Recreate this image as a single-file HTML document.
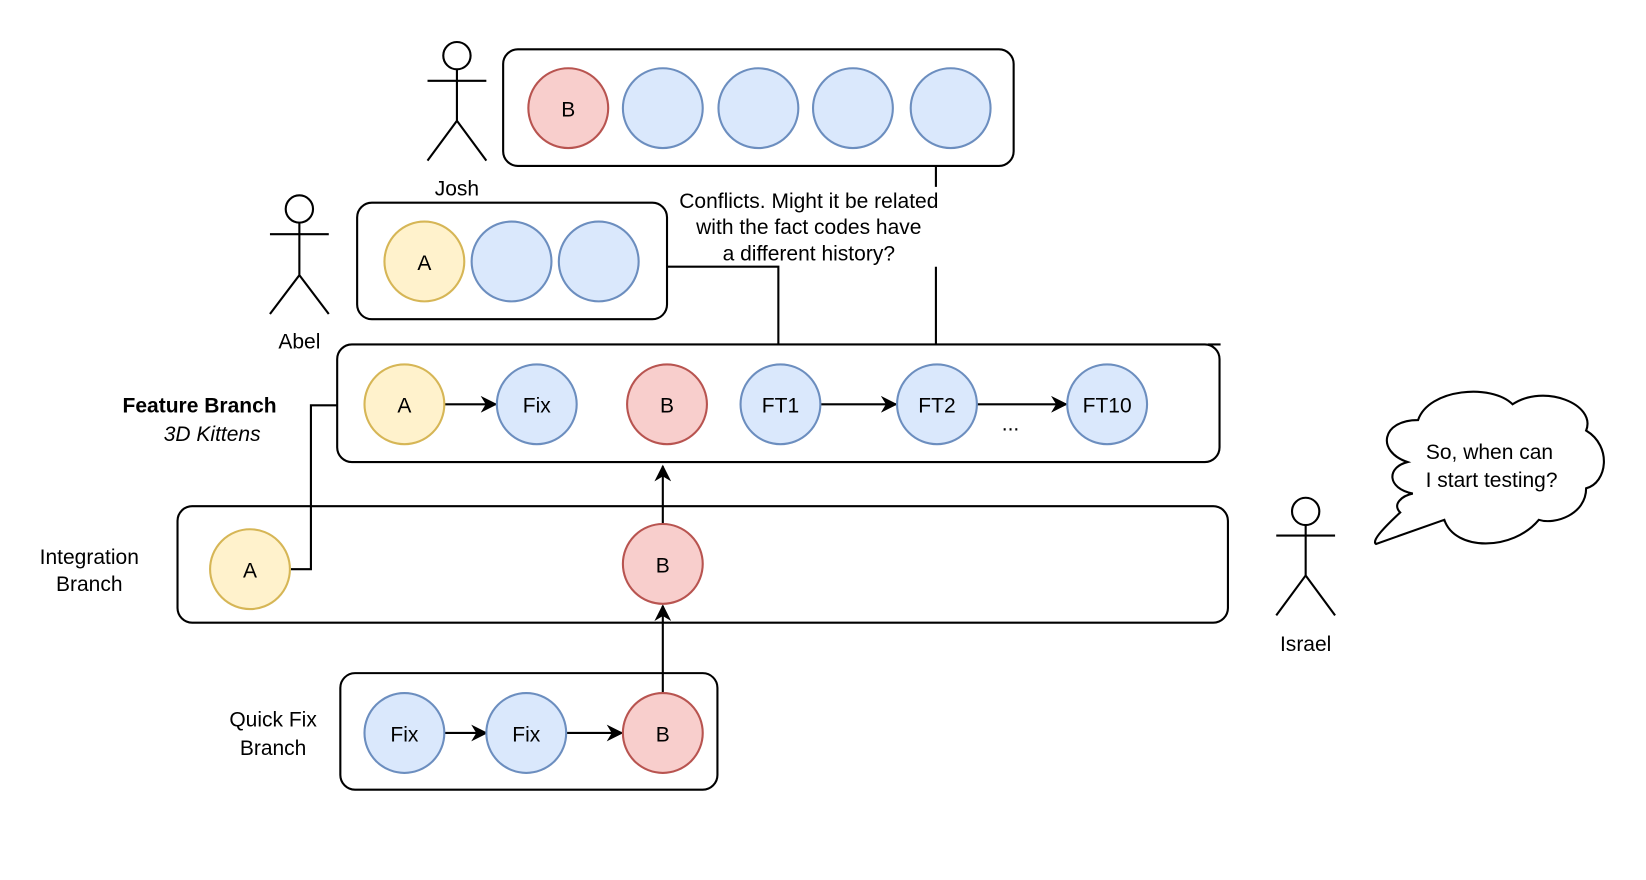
<!DOCTYPE html>
<html><head><meta charset="utf-8"><style>html,body{margin:0;padding:0;background:#fff}svg{display:block}</style></head>
<body>
<svg width="1646" height="880" viewBox="0 0 1567 838" preserveAspectRatio="none" xmlns="http://www.w3.org/2000/svg" font-family="Liberation Sans, Arial, sans-serif" font-size="20">
<defs>
<marker id="ar2" viewBox="0 0 10 10" refX="9" refY="5" markerWidth="16" markerHeight="16" markerUnits="userSpaceOnUse" orient="auto"><path d="M0,0 L10,5 L0,10 L3,5 Z" fill="#000"/></marker>
</defs>
<g fill="none" stroke="#000" stroke-width="2">
<circle cx="435" cy="53" r="13"/><path d="M407,77H463M435,66V115L407,153M435,115L463,153"/>
<circle cx="285" cy="199" r="13"/><path d="M257,223H313M285,212V262L257,299M285,262L313,299"/>
<circle cx="1243" cy="487" r="13"/><path d="M1215,510H1271M1243,500V548L1215,586M1243,548L1271,586"/>
<rect x="479" y="47" width="486" height="111" rx="14" fill="#fff"/>
<rect x="340" y="193" width="295" height="111" rx="14" fill="#fff"/>
<rect x="321" y="328" width="840" height="112" rx="14" fill="#fff"/>
<rect x="169" y="482" width="1000" height="111" rx="14" fill="#fff"/>
<rect x="324" y="641" width="359" height="111" rx="14" fill="#fff"/>
<path d="M1150,328H1162"/>
<path d="M635,254H741V328M891,158V178M891,254V328"/>
<path d="M321,386H296V542H277"/>
<path d="M631,499V444" marker-end="url(#ar2)"/>
<path d="M631,660V577" marker-end="url(#ar2)"/>
<path d="M423,385H472" marker-end="url(#ar2)"/>
<path d="M781,385H853" marker-end="url(#ar2)"/>
<path d="M930,385H1015" marker-end="url(#ar2)"/>
<path d="M423,698H463" marker-end="url(#ar2)"/>
<path d="M539,698H592" marker-end="url(#ar2)"/>
<path d="M1345,470 C1320,465 1320,445 1340,440 C1310,430 1315,400 1350,400 C1360,370 1420,365 1440,385 C1470,365 1520,385 1510,410 C1535,425 1530,460 1510,465 C1510,490 1480,500 1465,495 C1440,525 1385,525 1375,495 L1310,518 C1305,515 1320,500 1333,488 C1325,480 1335,472 1345,470 Z" fill="#fff"/>
</g>
<g stroke-width="2">
<circle cx="541" cy="103" r="38" fill="#f8cecc" stroke="#b85450"/>
<circle cx="631" cy="103" r="38" fill="#dae8fc" stroke="#6c8ebf"/>
<circle cx="722" cy="103" r="38" fill="#dae8fc" stroke="#6c8ebf"/>
<circle cx="812" cy="103" r="38" fill="#dae8fc" stroke="#6c8ebf"/>
<circle cx="905" cy="103" r="38" fill="#dae8fc" stroke="#6c8ebf"/>
<circle cx="404" cy="249" r="38" fill="#fff2cc" stroke="#d6b656"/>
<circle cx="487" cy="249" r="38" fill="#dae8fc" stroke="#6c8ebf"/>
<circle cx="570" cy="249" r="38" fill="#dae8fc" stroke="#6c8ebf"/>
<circle cx="385" cy="385" r="38" fill="#fff2cc" stroke="#d6b656"/>
<circle cx="511" cy="385" r="38" fill="#dae8fc" stroke="#6c8ebf"/>
<circle cx="635" cy="385" r="38" fill="#f8cecc" stroke="#b85450"/>
<circle cx="743" cy="385" r="38" fill="#dae8fc" stroke="#6c8ebf"/>
<circle cx="892" cy="385" r="38" fill="#dae8fc" stroke="#6c8ebf"/>
<circle cx="1054" cy="385" r="38" fill="#dae8fc" stroke="#6c8ebf"/>
<circle cx="238" cy="542" r="38" fill="#fff2cc" stroke="#d6b656"/>
<circle cx="631" cy="537" r="38" fill="#f8cecc" stroke="#b85450"/>
<circle cx="385" cy="698" r="38" fill="#dae8fc" stroke="#6c8ebf"/>
<circle cx="501" cy="698" r="38" fill="#dae8fc" stroke="#6c8ebf"/>
<circle cx="631" cy="698" r="38" fill="#f8cecc" stroke="#b85450"/>
</g>
<g text-anchor="middle" fill="#000">
<text x="541" y="111">B</text>
<text x="404" y="257">A</text>
<text x="385" y="393">A</text><text x="511" y="393">Fix</text><text x="635" y="393">B</text>
<text x="743" y="393">FT1</text><text x="892" y="393">FT2</text><text x="1054" y="393">FT10</text>
<text x="962" y="410">...</text>
<text x="238" y="550">A</text><text x="631" y="545">B</text>
<text x="385" y="706">Fix</text><text x="501" y="706">Fix</text><text x="631" y="706">B</text>
<text x="435" y="186">Josh</text>
<text x="285" y="332">Abel</text>
<text x="1243" y="620">Israel</text>
<text x="770" y="198">Conflicts. Might it be related</text>
<text x="770" y="223">with the fact codes have</text>
<text x="770" y="248">a different history?</text>
<text x="190" y="393" font-weight="bold">Feature Branch</text>
<text x="202" y="420" font-style="italic">3D Kittens</text>
<text x="85" y="537">Integration</text><text x="85" y="563">Branch</text>
<text x="260" y="692">Quick Fix</text><text x="260" y="719">Branch</text>
<text x="1418" y="437">So, when can</text><text x="1420" y="464">I start testing?</text>
</g>
</svg>
</body></html>
